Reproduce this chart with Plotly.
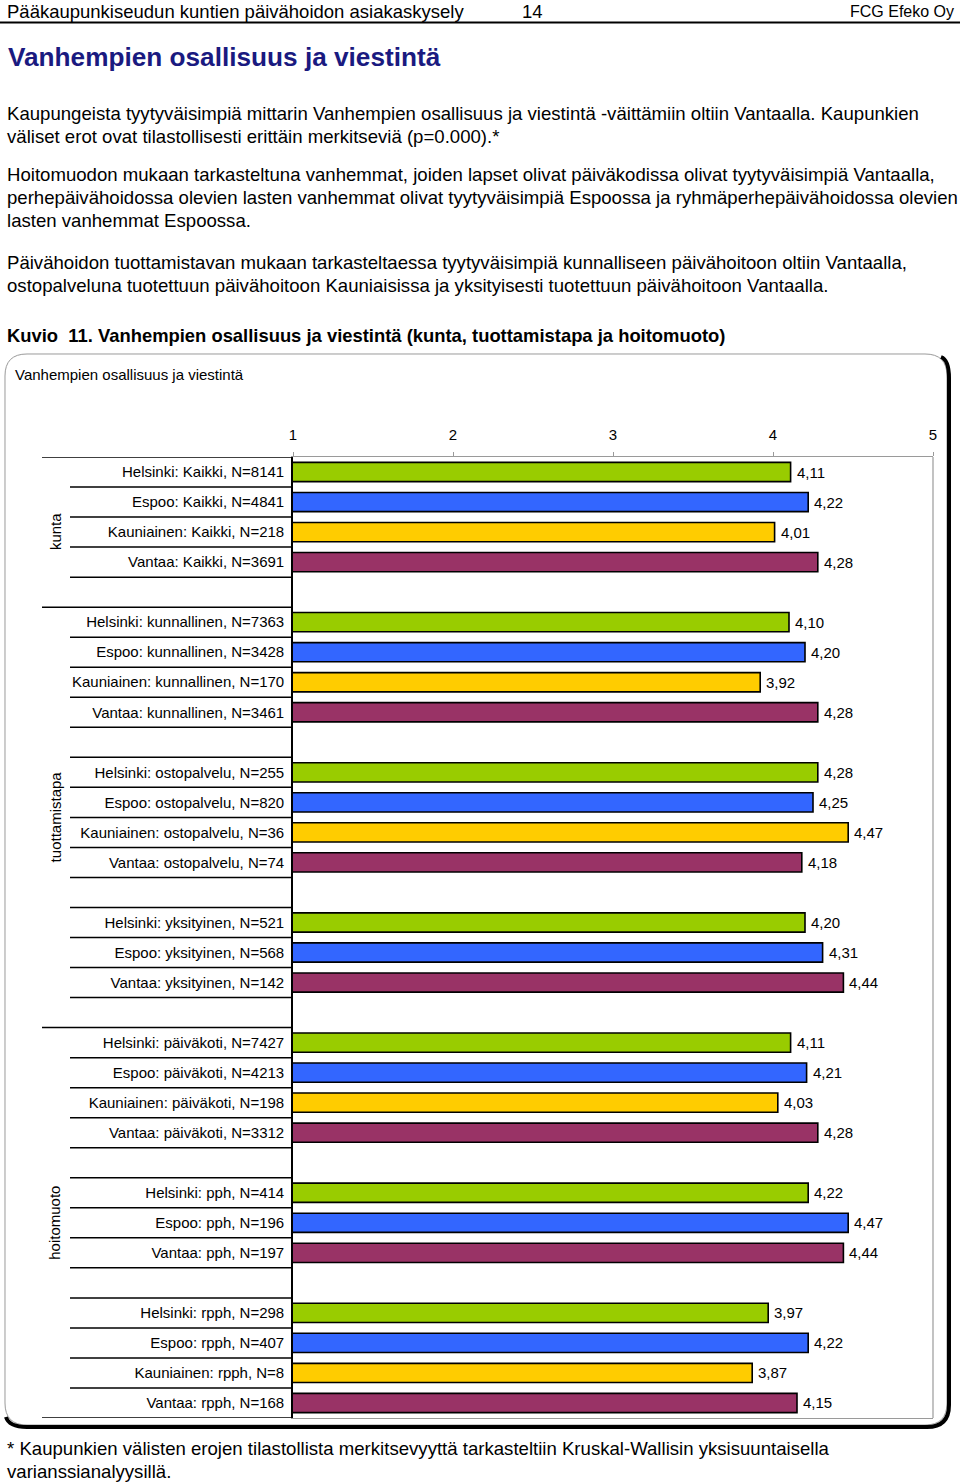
import plotly.graph_objects as go

W, H = 960, 1483

# ---------------- data ----------------
cities = ["Helsinki", "Espoo", "Kauniainen", "Vantaa"]
city_colors = ["#99CC00", "#3366FF", "#FFCC00", "#993366"]

labels_kunta = ["Helsinki: Kaikki, N=8141", "Espoo: Kaikki, N=4841",
                "Kauniainen: Kaikki, N=218", "Vantaa: Kaikki, N=3691"]
values_kunta = [4.11, 4.22, 4.01, 4.28]

labels_kunnallinen = ["Helsinki: kunnallinen, N=7363", "Espoo: kunnallinen, N=3428",
                      "Kauniainen: kunnallinen, N=170", "Vantaa: kunnallinen, N=3461"]
values_kunnallinen = [4.10, 4.20, 3.92, 4.28]

labels_ostopalvelu = ["Helsinki: ostopalvelu, N=255", "Espoo: ostopalvelu, N=820",
                      "Kauniainen: ostopalvelu, N=36", "Vantaa: ostopalvelu, N=74"]
values_ostopalvelu = [4.28, 4.25, 4.47, 4.18]

labels_yksityinen = ["Helsinki: yksityinen, N=521", "Espoo: yksityinen, N=568",
                     "Vantaa: yksityinen, N=142"]
values_yksityinen = [4.20, 4.31, 4.44]

labels_paivakoti = ["Helsinki: päiväkoti, N=7427", "Espoo: päiväkoti, N=4213",
                    "Kauniainen: päiväkoti, N=198", "Vantaa: päiväkoti, N=3312"]
values_paivakoti = [4.11, 4.21, 4.03, 4.28]

labels_pph = ["Helsinki: pph, N=414", "Espoo: pph, N=196", "Vantaa: pph, N=197"]
values_pph = [4.22, 4.47, 4.44]

labels_rpph = ["Helsinki: rpph, N=298", "Espoo: rpph, N=407",
               "Kauniainen: rpph, N=8", "Vantaa: rpph, N=168"]
values_rpph = [3.97, 4.22, 3.87, 4.15]

main_groups = ["kunta", "tuottamistapa", "hoitomuoto"]
subgroups = [
    [(labels_kunta, values_kunta)],
    [(labels_kunnallinen, values_kunnallinen), (labels_ostopalvelu, values_ostopalvelu),
     (labels_yksityinen, values_yksityinen)],
    [(labels_paivakoti, values_paivakoti), (labels_pph, values_pph), (labels_rpph, values_rpph)],
]
x_ticks = [1, 2, 3, 4, 5]

# ---------------- layout helpers ----------------
def px(x):
    return x / W

def py(y):
    return 1 - y / H

FONT = "Liberation Sans, Arial, Helvetica, sans-serif"

ys, xs, labs, cols, texts = [], [], [], [], []
shapes = []
row = 0
group_spans = []
n_total_sub = sum(len(s) for s in subgroups)
sub_counter = 0
LINE = dict(color="black", width=1.5)
for gname, subs in zip(main_groups, subgroups):
    g_start = row
    for si, (lbls, vals) in enumerate(subs):
        sub_counter += 1
        x_left = 42 if si == 0 else 70
        shapes.append(dict(type="line", xref="paper", yref="y", x0=px(x_left), x1=px(293),
                           y0=row - 0.5, y1=row - 0.5, line=LINE))
        for lb, v in zip(lbls, vals):
            city = lb.split(":")[0]
            ys.append(row)
            xs.append(v)
            labs.append(lb)
            cols.append(city_colors[cities.index(city)])
            texts.append(f"{v:.2f}".replace(".", ","))
            row += 1
            last_overall = (sub_counter == n_total_sub and lb == lbls[-1])
            shapes.append(dict(type="line", xref="paper", yref="y",
                               x0=px(42 if last_overall else 70), x1=px(293),
                               y0=row - 0.5, y1=row - 0.5, line=LINE))
        if sub_counter != n_total_sub:
            row += 1  # blank row
    group_spans.append((g_start, row))
n_rows = row

fig = go.Figure()
fig.add_trace(go.Bar(
    x=xs, y=ys, orientation="h",
    marker=dict(color=cols, line=dict(color="black", width=1.6)),
    width=0.64,
    hoverinfo="skip",
))

PL, PR, PT, PB = 293, 933, 457, 1418

annotations = []
# value labels
for v, y, t in zip(xs, ys, texts):
    annotations.append(dict(text=t, xref="x", yref="y", x=v, y=y, xanchor="left", yanchor="middle",
                            xshift=6, showarrow=False, borderpad=0, borderwidth=0,
                            font=dict(family=FONT, size=15, color="black")))

# group labels (rotated)
for gname, (a, b) in zip(main_groups, group_spans):
    annotations.append(dict(text=gname, xref="paper", yref="y", x=px(55),
                            y=(a - 0.5 + b - 0.5) / 2, textangle=-90, showarrow=False,
                            font=dict(family=FONT, size=15, color="black"),
                            xanchor="center", yanchor="middle"))

def txt(t, x, y, size, color="black", xanchor="left", bold=False):
    if bold:
        t = f"<b>{t}</b>"
    annotations.append(dict(text=t, xref="paper", yref="paper", x=px(x), y=py(y),
                            xanchor=xanchor, yanchor="middle", showarrow=False,
                            borderpad=0, borderwidth=0,
                            font=dict(family=FONT, size=size, color=color)))

# header
txt("Pääkaupunkiseudun kuntien päivähoidon asiakaskysely", 7, 11, 18.5)
txt("14", 532, 11, 18.5, xanchor="center")
txt("FCG Efeko Oy", 954, 11, 16, xanchor="right")
shapes.append(dict(type="line", xref="paper", yref="paper", x0=0, x1=1, y0=py(22.5), y1=py(22.5),
                   line=dict(color="black", width=2)))

txt("Vanhempien osallisuus ja viestintä", 8, 57, 26.2, color="#1a1a80", bold=True)

para = [
    ("Kaupungeista tyytyväisimpiä mittarin Vanhempien osallisuus ja viestintä -väittämiin oltiin Vantaalla. Kaupunkien", 113),
    ("väliset erot ovat tilastollisesti erittäin merkitseviä (p=0.000).*", 136),
    ("Hoitomuodon mukaan tarkasteltuna vanhemmat, joiden lapset olivat päiväkodissa olivat tyytyväisimpiä Vantaalla,", 174),
    ("perhepäivähoidossa olevien lasten vanhemmat olivat tyytyväisimpiä Espoossa ja ryhmäperhepäivähoidossa olevien", 197),
    ("lasten vanhemmat Espoossa.", 220),
    ("Päivähoidon tuottamistavan mukaan tarkasteltaessa tyytyväisimpiä kunnalliseen päivähoitoon oltiin Vantaalla,", 262),
    ("ostopalveluna tuotettuun päivähoitoon Kauniaisissa ja yksityisesti tuotettuun päivähoitoon Vantaalla.", 285),
]
for t, y in para:
    txt(t, 7, y, 18.6)

txt("Kuvio  11. Vanhempien osallisuus ja viestintä (kunta, tuottamistapa ja hoitomuoto)", 7, 335, 18.4,
    bold=True)

txt("Vanhempien osallisuus ja viestintä", 15, 374, 15)

txt("* Kaupunkien välisten erojen tilastollista merkitsevyyttä tarkasteltiin Kruskal-Wallisin yksisuuntaisella", 7, 1448, 18.6)
txt("varianssianalyysillä.", 7, 1471, 18.6)

# chart box (rounded) + shadow
bx0, by0, bx1, by1, r = 5, 354, 947, 1425, 22
def P(x, y):
    return f"{px(x):.6f},{py(y):.6f}"
box_path = (f"M {P(bx0 + r, by0)} L {P(bx1 - r, by0)} Q {P(bx1, by0)} {P(bx1, by0 + r)} "
            f"L {P(bx1, by1 - r)} Q {P(bx1, by1)} {P(bx1 - r, by1)} L {P(bx0 + r, by1)} "
            f"Q {P(bx0, by1)} {P(bx0, by1 - r)} L {P(bx0, by0 + r)} Q {P(bx0, by0)} {P(bx0 + r, by0)} Z")
shapes.insert(0, dict(type="path", xref="paper", yref="paper", path=box_path,
                      line=dict(color="#9a9a9a", width=1), fillcolor="white", layer="below"))
o = 2
sh_path = (f"M {P(bx1 - 6, by0 + 3)} Q {P(bx1 + o, by0 + 6)} {P(bx1 + o, by0 + r + o)} "
           f"L {P(bx1 + o, by1 - r + o)} Q {P(bx1 + o, by1 + o)} {P(bx1 - r + o, by1 + o)} "
           f"L {P(bx0 + r, by1 + o)} Q {P(bx0 + 4, by1 + o)} {P(bx0 + 1, by1 - 8)}")
shapes.append(dict(type="path", xref="paper", yref="paper", path=sh_path,
                   line=dict(color="black", width=4)))

shapes.append(dict(type="line", xref="paper", yref="paper", x0=px(PR), x1=px(PR),
                   y0=py(PT), y1=py(PB), line=dict(color="#9a9a9a", width=1.2)))

fig.update_layout(
    width=W, height=H,
    margin=dict(l=0, r=0, t=0, b=0),
    paper_bgcolor="white", plot_bgcolor="white",
    showlegend=False,
    font=dict(family=FONT, size=15, color="black"),
    shapes=shapes,
    annotations=annotations,
    xaxis=dict(domain=[px(PL), px(PR)], range=[1, 5], side="top", tickvals=x_ticks,
               ticktext=[str(t) for t in x_ticks],
               showgrid=False, zeroline=False, showline=True, linecolor="#9a9a9a", linewidth=1.2,
               mirror=True, ticks="outside", ticklen=4, tickcolor="#9a9a9a",
               tickfont=dict(family=FONT, size=15), ticklabelstandoff=6, fixedrange=True,
               automargin=False),
    yaxis=dict(domain=[py(PB), py(PT)], range=[n_rows - 0.5, -0.5], tickvals=ys, ticktext=labs,
               showgrid=False, zeroline=False, showline=True, linecolor="black", linewidth=1.6,
               ticks="", tickfont=dict(family=FONT, size=15), ticklabelstandoff=4,
               fixedrange=True, automargin=False),
)

fig.write_html("out.html", config={"displayModeBar": False},
               post_script="document.body.style.margin='0px';document.body.style.padding='0px';")
